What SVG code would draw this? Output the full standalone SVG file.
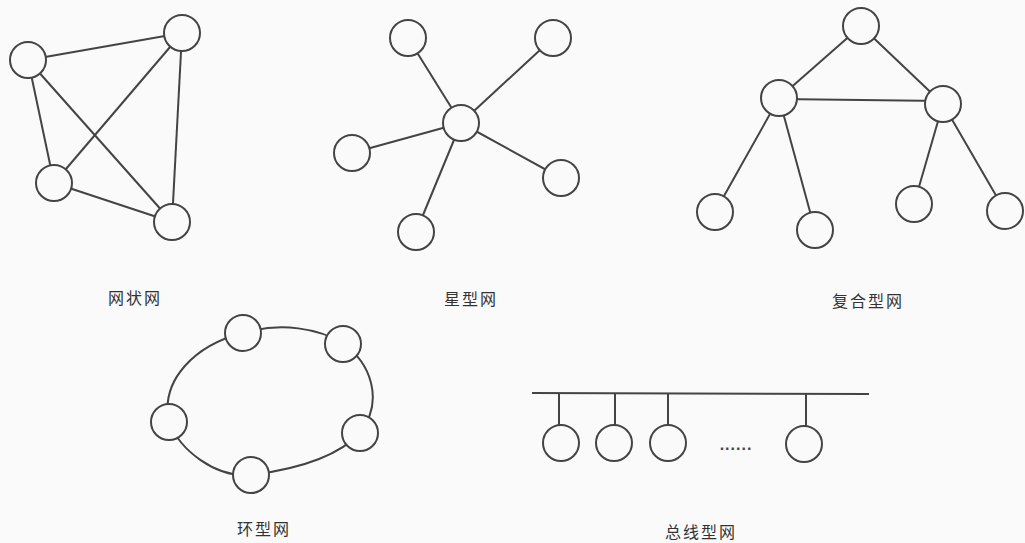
<svg xmlns="http://www.w3.org/2000/svg" width="1025" height="543" viewBox="0 0 1025 543">
<style>
.e{stroke:#444;stroke-width:2;fill:none}
.n{stroke:#444;stroke-width:2;fill:#fafafa}
.t{font-family:"Noto Sans CJK SC","Liberation Serif",serif;font-size:16px;fill:#333;text-anchor:middle;letter-spacing:2px}
</style>
<rect width="1025" height="543" fill="#fafafa"/>
<g id="connectors">
<!-- mesh -->
<line class="e" x1="28" y1="60" x2="182" y2="33"/>
<line class="e" x1="28" y1="60" x2="54" y2="183"/>
<line class="e" x1="28" y1="60" x2="172" y2="222"/>
<line class="e" x1="182" y1="33" x2="54" y2="183"/>
<line class="e" x1="182" y1="33" x2="172" y2="222"/>
<line class="e" x1="54" y1="183" x2="172" y2="222"/>
<!-- star -->
<line class="e" x1="461" y1="123" x2="408" y2="38"/>
<line class="e" x1="461" y1="123" x2="553" y2="38"/>
<line class="e" x1="461" y1="123" x2="352" y2="153"/>
<line class="e" x1="461" y1="123" x2="561" y2="178"/>
<line class="e" x1="461" y1="123" x2="416" y2="232"/>
<!-- composite -->
<line class="e" x1="861" y1="26" x2="779" y2="98"/>
<line class="e" x1="861" y1="26" x2="943" y2="104"/>
<line class="e" x1="779" y1="99" x2="943" y2="101"/>
<line class="e" x1="779" y1="98" x2="715" y2="212"/>
<line class="e" x1="779" y1="98" x2="815" y2="230"/>
<line class="e" x1="943" y1="104" x2="914" y2="204"/>
<line class="e" x1="943" y1="104" x2="1005" y2="211"/>
<!-- ring -->
<path class="e" d="M243,333 C280,322 320,328 343,344 C370,362 385,400 360,433 C335,460 290,470 251,475 C215,478 180,450 169,422 C160,380 195,345 243,333 Z"/>
<!-- bus -->
<line class="e" x1="532" y1="393" x2="869" y2="394"/>
<line class="e" x1="559" y1="393" x2="559" y2="426"/>
<line class="e" x1="615" y1="393" x2="615" y2="426"/>
<line class="e" x1="668" y1="393" x2="668" y2="426"/>
<line class="e" x1="806" y1="394" x2="806" y2="427"/>
</g>
<g id="mesh-nodes">
<circle id="mesh1" class="n" cx="28" cy="60" r="18"/>
<circle id="mesh2" class="n" cx="182" cy="33" r="18"/>
<circle id="mesh3" class="n" cx="54" cy="183" r="18"/>
<circle id="mesh4" class="n" cx="172" cy="222" r="18"/>
</g>
<g id="star-nodes">
<circle id="star0" class="n" cx="461" cy="123" r="18"/>
<circle id="star1" class="n" cx="408" cy="38" r="18"/>
<circle id="star2" class="n" cx="553" cy="38" r="18"/>
<circle id="star3" class="n" cx="352" cy="153" r="18"/>
<circle id="star4" class="n" cx="561" cy="178" r="18"/>
<circle id="star5" class="n" cx="416" cy="232" r="18"/>
</g>
<g id="comp-nodes">
<circle id="comp0" class="n" cx="861" cy="26" r="18"/>
<circle id="comp1" class="n" cx="779" cy="98" r="18"/>
<circle id="comp2" class="n" cx="943" cy="104" r="18"/>
<circle id="comp3" class="n" cx="715" cy="212" r="18"/>
<circle id="comp4" class="n" cx="815" cy="230" r="18"/>
<circle id="comp5" class="n" cx="914" cy="204" r="18"/>
<circle id="comp6" class="n" cx="1005" cy="211" r="18"/>
</g>
<g id="ring-nodes">
<circle id="ring1" class="n" cx="243" cy="333" r="18"/>
<circle id="ring2" class="n" cx="343" cy="344" r="18"/>
<circle id="ring3" class="n" cx="360" cy="433" r="18"/>
<circle id="ring4" class="n" cx="251" cy="475" r="18"/>
<circle id="ring5" class="n" cx="169" cy="422" r="18"/>
</g>
<g id="bus-nodes">
<circle id="bus1" class="n" cx="561" cy="443" r="18"/>
<circle id="bus2" class="n" cx="614" cy="443" r="18"/>
<circle id="bus3" class="n" cx="668" cy="443" r="18"/>
<circle id="bus4" class="n" cx="804" cy="444" r="18"/>
<text x="736" y="450" style="font-family:'Liberation Sans',sans-serif;font-size:16px;font-weight:bold;fill:#444;text-anchor:middle;letter-spacing:1px">......</text>
</g>
<g id="labels">
<text class="t" x="135" y="304">网状网</text>
<text class="t" x="471" y="305">星型网</text>
<text class="t" x="868" y="307">复合型网</text>
<text class="t" x="264" y="535">环型网</text>
<text class="t" x="701" y="538">总线型网</text>
</g>
</svg>
